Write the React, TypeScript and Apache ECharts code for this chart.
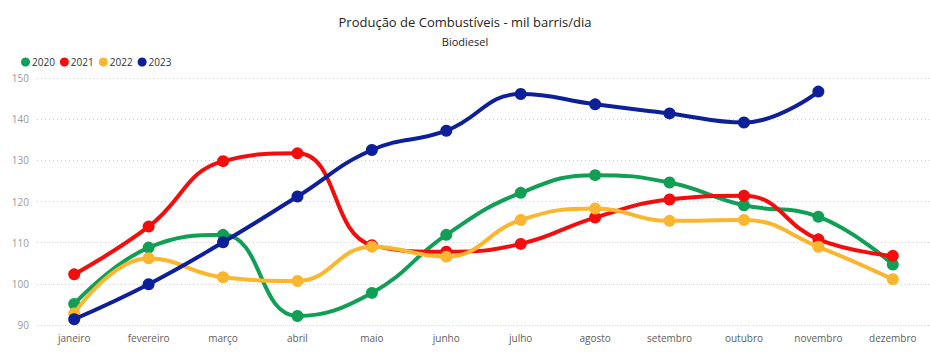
import React, { useEffect, useRef } from "react";
import * as echarts from "echarts";

const months = ["janeiro", "fevereiro", "março", "abril", "maio", "junho", "julho", "agosto", "setembro", "outubro", "novembro", "dezembro"];
const years = ["2020", "2021", "2022", "2023"];
const colors = ["#109f55", "#f40d0d", "#fbb630", "#0d1f99"];
const v2020 = [95.1, 108.8, 111.9, 92.2, 97.8, 111.9, 122.1, 126.4, 124.6, 119.1, 116.3, 104.7];
const v2021 = [102.3, 113.9, 129.8, 131.7, 109.4, 107.8, 109.7, 116.1, 120.5, 121.4, 110.8, 106.8];
const v2022 = [92.8, 106.2, 101.6, 100.7, 109.0, 106.6, 115.5, 118.3, 115.3, 115.5, 109.0, 101.1];
const v2023 = [91.4, 99.9, 110.1, 121.2, 132.5, 137.2, 146.1, 143.6, 141.4, 139.2, 146.7, null];
const yTicks = [90, 100, 110, 120, 130, 140, 150];

export default function App() {
  const ref = useRef<HTMLDivElement>(null);
  useEffect(() => {
    document.body.style.margin = "0";
    const chart = echarts.init(ref.current!, null, { renderer: "svg" });
    const seriesData = [v2020, v2021, v2022, v2023];
    const font = "'Segoe UI', 'Open Sans', sans-serif";
    chart.setOption({
      animation: false,
      backgroundColor: "#ffffff",
      title: {
        text: "Produção de Combustíveis - mil barris/dia",
        subtext: "Biodiesel",
        left: "center",
        top: 10,
        itemGap: 8,
        textStyle: { fontFamily: font, fontSize: 13, fontWeight: 500, color: "#252423" },
        subtextStyle: { fontFamily: font, fontSize: 11, color: "#252423" },
      },
      legend: {
        data: years,
        left: 16,
        top: 52,
        icon: "circle",
        itemWidth: 9,
        itemHeight: 9,
        itemGap: 5,
        textStyle: { fontFamily: font, fontSize: 10, color: "#333333", padding: [0, 0, 0, -3] },
      },
      grid: { left: 37, right: 0, top: 78, bottom: 27 },
      xAxis: {
        type: "category",
        data: months,
        boundaryGap: true,
        axisLine: { show: false },
        axisTick: { show: false },
        axisLabel: { fontFamily: font, fontSize: 10, color: "#605e5c", margin: 8 },
      },
      yAxis: {
        type: "value",
        min: yTicks[0],
        max: yTicks[yTicks.length - 1],
        interval: 10,
        axisLine: { show: false },
        axisTick: { show: false },
        axisLabel: { fontFamily: font, fontSize: 10, color: "#999999", margin: 8 },
        splitLine: { lineStyle: { type: [1, 3], color: "#cccccc", width: 1 } },
      },
      series: years.map((y, i) => ({
        name: y,
        type: "line",
        data: seriesData[i],
        smooth: 0.45,
        symbol: "circle",
        symbolSize: 12,
        lineStyle: { width: 4, color: colors[i] },
        itemStyle: { color: colors[i] },
        z: 2 + i,
      })),
    });
    return () => chart.dispose();
  }, []);
  return <div ref={ref} style={{ width: 930, height: 352 }} />;
}
